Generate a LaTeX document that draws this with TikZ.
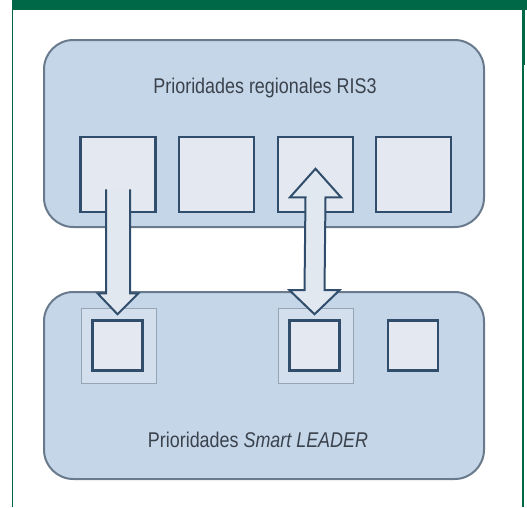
\documentclass[tikz,border=0pt]{standalone}
\usepackage{fontspec}
\setmainfont{Liberation Sans}[FakeStretch=0.84]
\usetikzlibrary{calc}

\tikzset{every picture/.style={line width=0.75pt}}
\tikzset{
  panel/.style={draw={rgb, 255:red, 105; green, 122; blue, 140 }, fill={rgb, 255:red, 198; green, 214; blue, 233 }, line width=1.5pt, rounded corners=22pt},
  sqbox/.style={draw={rgb, 255:red, 48; green, 78; blue, 108 }, fill={rgb, 255:red, 228; green, 233; blue, 241 }, line width=1.9pt, inner sep=0pt},
  halo/.style={draw={rgb, 255:red, 150; green, 165; blue, 182 }, fill={rgb, 255:red, 212; green, 223; blue, 237 }, line width=0.5pt, inner sep=0pt, minimum size=56pt},
  blockarrow/.style={draw={rgb, 255:red, 48; green, 78; blue, 108 }, fill={rgb, 255:red, 226; green, 232; blue, 240 }, line width=1.5pt, line join=miter},
  caption/.style={color={rgb, 255:red, 58; green, 66; blue, 76 }, inner sep=0.75pt, font=\fontsize{16}{18}\selectfont}
}

\begin{document}
\begin{tikzpicture}[x=0.75pt,y=0.75pt,yscale=-1,xscale=1]
\useasboundingbox (0,0) rectangle (527,507);

%Shape: green frame
\fill [color={rgb, 255:red, 0; green, 104; blue, 71 }] (12,0) rectangle (527,9.5);
\draw [color={rgb, 255:red, 0; green, 104; blue, 71 }, line width=1.2pt] (12.5,9) -- (12.5,507);
\draw [color={rgb, 255:red, 0; green, 104; blue, 71 }, line width=1.2pt] (523,9) -- (523,507);
\draw [color={rgb, 255:red, 0; green, 104; blue, 71 }, line width=2.4pt] (523.5,9) -- (523.5,65);

%Shape: top panel (RIS3)
\draw [panel] (44,40) rectangle (484,227);
% Text Node
\node (risTitle) [caption] at (265,88) {Prioridades regionales RIS3};

%Shape: RIS3 squares
\node (r1) [sqbox, minimum size=56.25pt] at (118,174.5) {};
\node (r2) [sqbox, minimum size=56.25pt] at (216.5,174.5) {};
\node (r3) [sqbox, minimum size=56.25pt] at (315.5,174.5) {};
\node (r4) [sqbox, minimum size=56.25pt] at (413.5,174.5) {};

%Shape: bottom panel (Smart LEADER)
\draw [panel] (44,292) rectangle (484,479);
% Text Node
\node (leaderTitle) [caption] at (258,440) {Prioridades \textit{Smart LEADER}};

%Shape: halos round the linked squares
\node (h1) [halo] at (118.5,346) {};
\node (h2) [halo] at (315.5,346) {};

%Shape: LEADER squares
\node (s1) [sqbox, minimum size=37.5pt] at (117.5,345.5) {};
\node (s2) [sqbox, minimum size=37.5pt] at (314.5,345.5) {};
\node (s3) [sqbox, minimum size=37.5pt] at (413,345.5) {};

%Block arrow: r1 down to s1
\draw [blockarrow] ($(r1.south)+(-12,-24)$) -- ($(r1.south)+(-12,80)$) -- ($(r1.south)+(-20.5,80)$) -- ($(s1.north)+(0,-5)$) -- ($(r1.south)+(20.5,80)$) -- ($(r1.south)+(12,80)$) -- ($(r1.south)+(12,-24)$);

%Block arrow: r3 and s2 both ways
\draw [blockarrow] ($(r3.north)+(0,33)$) -- ($(r3.south)+(25.5,-16)$) -- ($(r3.south)+(10,-16)$) -- ($(s2.north)+(10,-29)$) -- ($(s2.north)+(25,-29)$) -- ($(s2.north)+(0,-5)$) -- ($(s2.north)+(-25,-29)$) -- ($(s2.north)+(-10,-29)$) -- ($(r3.south)+(-10,-16)$) -- ($(r3.south)+(-25.5,-16)$) -- cycle;

\end{tikzpicture}
\end{document}
